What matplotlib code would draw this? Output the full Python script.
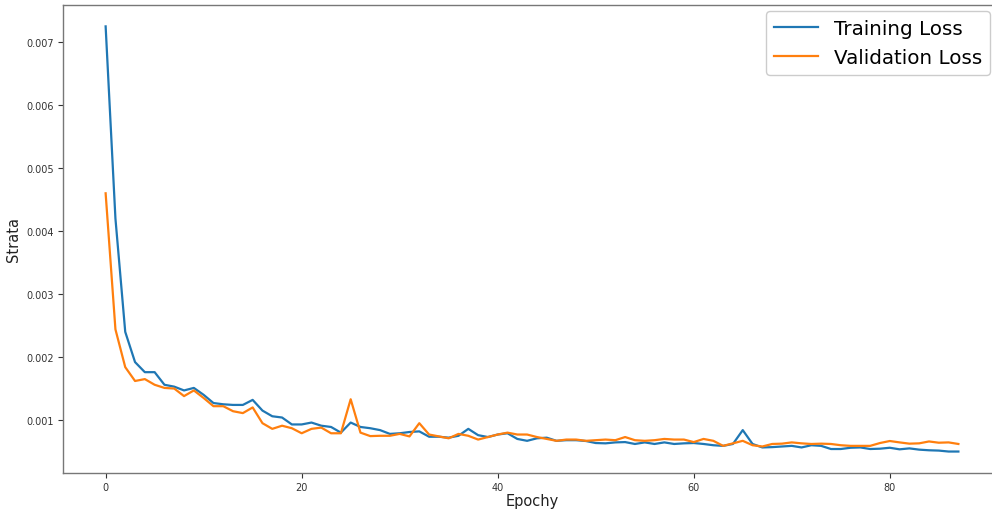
import numpy as np
import matplotlib
matplotlib.use("Agg")
import matplotlib.pyplot as plt

# loss values (units of 1e-3)
train_loss = [7.25, 4.20, 2.40, 1.92, 1.76, 1.76, 1.56, 1.53, 1.47, 1.51,
              1.40, 1.27, 1.25, 1.24, 1.24, 1.32, 1.15, 1.06, 1.04, 0.93,
              0.93, 0.96, 0.91, 0.89, 0.80, 0.96, 0.89, 0.87, 0.84, 0.78,
              0.79, 0.81, 0.82, 0.735, 0.735, 0.72, 0.75, 0.86, 0.76, 0.73,
              0.77, 0.79, 0.70, 0.67, 0.71, 0.72, 0.67, 0.68, 0.68, 0.667,
              0.635, 0.63, 0.645, 0.65, 0.62, 0.645, 0.62, 0.645, 0.62, 0.63,
              0.635, 0.62, 0.60, 0.59, 0.62, 0.84, 0.62, 0.565, 0.57, 0.58,
              0.59, 0.565, 0.60, 0.59, 0.54, 0.54, 0.56, 0.565, 0.54, 0.545,
              0.56, 0.535, 0.55, 0.53, 0.52, 0.515, 0.50, 0.50]
val_loss = [4.60, 2.44, 1.84, 1.62, 1.65, 1.56, 1.51, 1.50, 1.38, 1.47,
            1.35, 1.22, 1.22, 1.14, 1.11, 1.20, 0.95, 0.86, 0.91, 0.87,
            0.79, 0.86, 0.88, 0.79, 0.79, 1.33, 0.80, 0.745, 0.75, 0.75,
            0.78, 0.74, 0.95, 0.77, 0.74, 0.71, 0.78, 0.75, 0.69, 0.73,
            0.77, 0.80, 0.77, 0.77, 0.73, 0.70, 0.67, 0.69, 0.69, 0.67,
            0.68, 0.69, 0.68, 0.73, 0.68, 0.67, 0.68, 0.70, 0.69, 0.69,
            0.65, 0.70, 0.67, 0.59, 0.63, 0.67, 0.60, 0.58, 0.62, 0.625,
            0.645, 0.63, 0.62, 0.625, 0.62, 0.60, 0.59, 0.59, 0.59, 0.635,
            0.667, 0.645, 0.625, 0.63, 0.66, 0.64, 0.645, 0.62]
labels = ["Training Loss", "Validation Loss"]


def main():
    train = np.array(train_loss) * 1e-3
    val = np.array(val_loss) * 1e-3

    fig = plt.figure(figsize=(9.92, 5.10), dpi=100)
    # axes runs a little past the right edge, as in the reference
    ax = fig.add_axes([0.0635, 0.071, 0.9456, 0.917])

    ax.plot(train, color="#1f77b4", lw=1.6, label=labels[0])
    ax.plot(val, color="#ff7f0e", lw=1.6, label=labels[1])

    ax.set_yticks([0.001, 0.002, 0.003, 0.004, 0.005, 0.006, 0.007])
    ax.set_xticks([0, 20, 40, 60, 80])
    ax.tick_params(labelsize=7, colors="#333333", length=3.5, width=0.8, pad=3)
    for s in ax.spines.values():
        s.set_color("#777777")
        s.set_linewidth(1.0)
    ax.spines["right"].set_visible(False)

    ax.set_xlabel("Epochy", fontsize=10.5, color="#222222", labelpad=1)
    ax.set_ylabel("Strata", fontsize=10.5, color="#222222", labelpad=4)

    # legend pinned just inside the visible right edge
    ax.legend(loc="upper right", fontsize=14.3, handlelength=2.2,
              bbox_to_anchor=(0.998, 0.976), bbox_transform=fig.transFigure,
              borderaxespad=0.0, framealpha=1.0)

    fig.savefig("out.png", dpi=100)


if __name__ == "__main__":
    main()
